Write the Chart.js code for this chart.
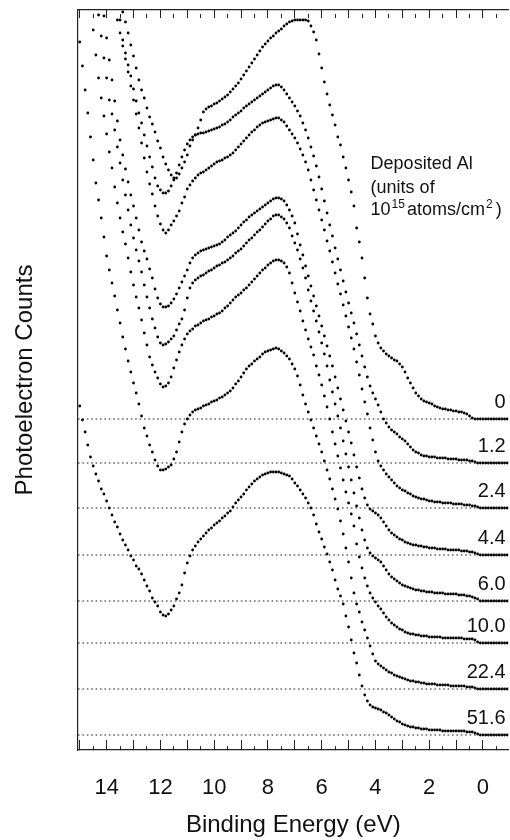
<!DOCTYPE html>
<html>
<head>
<meta charset="utf-8">
<title>Photoelectron spectra vs deposited Al</title>
<script src="https://cdn.jsdelivr.net/npm/chart.js@4.4.1/dist/chart.umd.min.js"></script>
<style>
  html, body { margin: 0; padding: 0; background: #fff; overflow: hidden; }
  #wrap { width: 510px; height: 840px; }
</style>
</head>
<body>
<div id="wrap"><canvas id="spectra" width="510" height="840"></canvas></div>
<script>
// --- DATA ---
// binding energy grid (eV), shared by every spectrum; spectra stop where they leave the top of the frame
const energies = [
  -0.9,-0.8,-0.7,-0.6,-0.5,-0.4,-0.3,-0.2,-0.1,0,
  0.1,0.2,0.3,0.4,0.5,0.6,0.7,0.8,0.9,1.0,
  1.1,1.2,1.3,1.4,1.5,1.6,1.7,1.8,1.9,2.0,
  2.1,2.2,2.3,2.4,2.5,2.6,2.7,2.8,2.9,3.0,
  3.1,3.2,3.3,3.4,3.5,3.6,3.7,3.8,3.9,4.0,
  4.1,4.2,4.3,4.4,4.5,4.6,4.7,4.8,4.9,5.0,
  5.1,5.2,5.3,5.4,5.5,5.6,5.7,5.8,5.9,6.0,
  6.1,6.2,6.3,6.4,6.5,6.6,6.7,6.8,6.9,7.0,
  7.1,7.2,7.3,7.4,7.5,7.6,7.7,7.8,7.9,8.0,
  8.1,8.2,8.3,8.4,8.5,8.6,8.7,8.8,8.9,9.0,
  9.1,9.2,9.3,9.4,9.5,9.6,9.7,9.8,9.9,10.0,
  10.1,10.2,10.3,10.4,10.5,10.6,10.7,10.8,10.9,11.0,
  11.1,11.2,11.3,11.4,11.5,11.6,11.7,11.8,11.9,12.0,
  12.1,12.2,12.3,12.4,12.5,12.6,12.7,12.8,12.9,13.0,
  13.1,13.2,13.3,13.4,13.5,13.6,13.7,13.8,13.9,14.0,
  14.1,14.2,14.3,14.4,14.5,14.6,14.7,14.8,14.9,15.0
];

// deposited Al coverage (10^15 atoms/cm^2) and the offset baseline of each spectrum
const coverages = ['0', '1.2', '2.4', '4.4', '6.0', '10.0', '22.4', '51.6'];
const baselines = [331, 287, 242, 195, 149, 107, 61, 15];

// photoelectron counts (arbitrary units, offset spectra)
const al0 = [
  331,331,331,331,331,331,331,331,331,331,
  331,331,331,332,334,336,337,338,338,339,
  339,340,340,341,341,342,343,344,346,347,
  348,349,351,354,357,362,367,372,378,383,
  386,389,390,392,394,396,399,402,407,414,
  426,436,452,472,492,508,522,544,558,570,
  582,593,605,613,625,635,645,656,668,682,
  696,710,718,724,729,730,730,730,730,730,
  729,728,726,724,721,719,717,714,712,709,
  706,703,699,695,691,687,683,679,675,671,
  667,664,661,658,655,653,651,649,647,646,
  644,643,641,638,630,622,615,610,604,595,
  588,582,576,572,572,575,580,586,593,602,
  609,618,626,633,642,652,660,670,682,694,
  705,717,728,738
];
const al1_2 = [
  287,287,287,287,287,287,287,287,287,287,
  287,287,288,289,289,290,290,290,290,291,
  291,291,291,292,292,292,292,293,293,293,
  294,294,295,297,298,300,303,306,309,311,
  313,316,318,320,323,327,331,338,345,351,
  357,364,373,383,394,405,416,427,437,447,
  458,469,480,491,502,514,525,537,549,561,
  573,584,594,603,612,620,627,634,639,644,
  648,652,656,660,663,665,665,664,662,660,
  658,656,654,652,650,648,646,644,642,639,
  637,635,633,630,628,626,625,623,622,621,
  620,619,618,617,617,616,615,613,610,606,
  600,593,585,577,570,564,559,557,557,560,
  564,572,583,593,604,615,627,637,649,661,
  674,685,697,710,730
];
const al2_4 = [
  242,242,242,242,242,242,242,242,242,242,
  242,243,244,244,245,245,245,246,246,246,
  246,247,247,247,247,248,248,248,249,249,
  250,251,251,252,253,254,256,257,259,260,
  262,264,267,270,273,276,280,284,289,298,
  310,322,336,348,361,375,388,401,412,423,
  434,445,456,466,477,488,499,509,520,530,
  540,550,560,570,580,588,595,601,607,612,
  616,620,624,628,630,632,632,631,630,629,
  628,627,625,623,620,618,615,612,609,606,
  603,600,597,595,593,592,590,589,588,586,
  584,582,580,578,577,575,572,569,565,561,
  553,547,539,534,529,525,520,517,520,526,
  534,544,556,566,578,592,607,622,636,650,
  664,678,691,704,717,730
];
const al4_4 = [
  195,195,195,195,195,195,195,195,195,195,
  195,196,197,198,198,199,199,199,200,200,
  200,200,200,201,201,201,201,202,202,202,
  203,203,204,204,205,205,206,207,208,210,
  211,213,215,217,220,224,228,232,235,237,
  239,241,245,252,261,272,283,295,307,318,
  329,340,351,362,373,384,394,404,414,424,
  434,444,454,464,474,484,495,505,516,527,
  534,540,545,549,551,552,552,551,549,547,
  545,543,541,539,537,535,533,530,528,525,
  522,519,517,515,513,510,508,506,505,504,
  503,502,501,500,499,497,495,492,487,480,
  474,468,462,456,451,447,444,443,443,446,
  452,461,472,481,491,499,508,520,532,544,
  555,568,581,595,610,629,649,670,690,712,
  734
];
const al6_0 = [
  149,149,149,149,149,149,149,149,149,149,
  149,151,152,153,154,154,155,155,155,156,
  156,156,156,156,157,157,157,157,158,158,
  158,159,159,160,160,161,162,163,164,165,
  167,169,171,173,176,180,184,188,190,192,
  194,197,202,210,220,232,244,257,270,283,
  296,309,322,334,346,358,370,384,396,407,
  418,429,439,449,460,472,482,491,500,507,
  514,522,527,531,533,535,535,534,531,529,
  526,523,520,518,515,512,510,507,504,501,
  499,497,494,492,490,488,487,485,484,482,
  480,479,477,475,474,472,470,467,462,452,
  440,431,426,420,414,411,408,406,405,407,
  413,422,431,442,453,465,478,489,500,512,
  525,540,555,570,587,603,620,636,650,672,
  692,714,735
];
const al10_0 = [
  107,107,107,107,107,107,107,107,107,107,
  107,108,110,111,111,111,111,112,112,112,
  112,112,112,112,112,113,113,113,113,113,
  114,114,114,115,115,116,116,117,118,120,
  121,123,125,127,130,133,137,141,144,148,
  152,157,164,172,182,193,206,224,236,247,
  258,270,282,294,306,318,331,343,354,365,
  375,384,395,403,411,420,429,439,448,457,
  467,477,483,487,489,490,490,489,487,485,
  482,480,477,474,471,468,465,462,460,457,
  455,453,450,447,444,442,439,437,436,434,
  433,431,430,429,427,425,424,421,419,416,
  411,405,398,390,382,373,367,364,363,366,
  372,378,385,393,405,417,430,442,453,465,
  478,492,506,518,532,547,563,582,598,616,
  634,652,672,695,720
];
const al22_4 = [
  61,61,61,61,61,61,61,61,61,61,
  61,61,62,63,63,63,64,64,64,64,
  64,64,65,65,65,65,65,66,66,66,
  66,67,67,68,68,69,69,70,71,72,
  73,74,75,77,78,80,82,84,86,89,
  96,104,112,120,128,138,146,157,172,188,
  202,216,229,241,251,261,271,280,289,298,
  306,314,322,330,338,346,355,365,374,381,
  386,391,394,397,399,401,402,401,400,399,
  398,396,393,391,389,386,384,381,377,373,
  369,366,362,359,357,355,353,352,350,349,
  348,346,345,344,342,341,340,338,335,331,
  326,318,308,298,291,285,283,281,280,280,
  284,290,298,305,314,322,334,346,357,367,
  378,389,401,413,427,440,454,467,480,494,
  513,532,550,567,590,613,637,660,684,708
];
const al51_6 = [
  15,15,15,15,15,15,15,15,15,15,
  15,16,17,18,18,18,19,19,19,19,
  19,19,19,19,19,20,20,20,20,20,
  21,21,21,22,22,23,23,24,25,26,
  28,29,31,33,35,37,38,40,41,42,
  43,45,49,55,64,75,87,97,110,123,
  134,146,154,161,170,180,188,196,203,211,
  218,226,235,242,247,252,256,260,264,267,
  271,274,275,276,277,278,278,278,278,277,
  276,275,273,271,269,266,263,260,256,253,
  250,247,243,239,237,234,232,229,227,225,
  222,220,217,214,211,208,204,200,194,187,
  177,165,157,151,144,140,136,134,135,138,
  144,148,152,159,164,170,176,181,184,190,
  194,200,205,210,216,223,228,235,242,249,
  256,261,269,276,284,293,305,318,330,344
];

const spectra = [al0, al1_2, al2_4, al4_4, al6_0, al10_0, al22_4, al51_6];

// axis limits (eV), axis runs high to low
const E_MAX = 15.065;
const E_MIN = -0.953;
const COUNTS_MAX = 740;

const FONT = "'Liberation Sans', Arial, Helvetica, sans-serif";
const INK = '#111';

// --- DATASETS ---
const spectrumSets = spectra.map((vals, i) => ({
  label: coverages[i],
  data: vals.map((v, j) => ({ x: energies[j], y: v })),
  showLine: false,
  pointRadius: 1.4,
  pointBorderWidth: 0,
  pointBackgroundColor: '#000',
  pointHoverRadius: 1.4
}));

const baselineSets = baselines.map(b => ({
  type: 'line',
  data: [{ x: E_MAX, y: b }, { x: E_MIN, y: b }],
  borderColor: '#222',
  borderWidth: 1.2,
  borderDash: [1.6, 2.8],
  pointRadius: 0,
  fill: false
}));

// --- TEXT NOTES ---
const notesPlugin = {
  id: 'notes',
  afterDatasetsDraw(chart) {
    const { ctx, chartArea, scales } = chart;
    const y = scales.y;
    ctx.save();
    ctx.fillStyle = INK;
    ctx.textBaseline = 'alphabetic';

    // coverage labels sitting on each baseline
    ctx.font = `20px ${FONT}`;
    ctx.textAlign = 'right';
    coverages.forEach((c, i) => {
      ctx.fillText(c, chartArea.right - 3, y.getPixelForValue(baselines[i]) - 11);
    });

    // heading of the coverage column
    ctx.textAlign = 'left';
    const x0 = chartArea.right - 138;
    const top = chartArea.top;
    ctx.font = `18px ${FONT}`;
    ctx.fillText('Deposited Al', x0, top + 159);
    ctx.fillText('(units of', x0, top + 183);

    let x = x0;
    const base = top + 205;
    ctx.fillText('10', x, base);
    x += ctx.measureText('10').width + 1;
    ctx.font = `12px ${FONT}`;
    ctx.fillText('15', x, base - 7);
    x += ctx.measureText('15').width + 2;
    ctx.font = `18px ${FONT}`;
    ctx.fillText('atoms/cm', x, base);
    x += ctx.measureText('atoms/cm').width + 1;
    ctx.font = `12px ${FONT}`;
    ctx.fillText('2', x, base - 7);
    x += ctx.measureText('2').width + 3;
    ctx.font = `18px ${FONT}`;
    ctx.fillText(')', x, base);
    ctx.restore();
  }
};

// --- CHART ---
const isWhole = v => Math.abs(v - Math.round(v)) < 1e-6;

// keep the frame flush with the canvas edges
const noSidePadding = s => { s.paddingLeft = 0; s.paddingRight = 0; };

new Chart(document.getElementById('spectra'), {
  type: 'scatter',
  data: { datasets: [...baselineSets, ...spectrumSets] },
  options: {
    responsive: false,
    animation: false,
    events: [],
    layout: { padding: 0 },
    plugins: { legend: { display: false }, tooltip: { enabled: false } },
    scales: {
      x: {
        type: 'linear',
        position: 'bottom',
        reverse: true,
        min: E_MIN,
        max: E_MAX,
        afterFit: s => { s.height = 90; noSidePadding(s); },
        border: { display: true, color: '#222', width: 1.2 },
        grid: {
          drawOnChartArea: false,
          drawTicks: true,
          tickLength: -10,
          tickColor: '#222',
          tickWidth: 1,
          tickBorderDash: c => (c.tick && !isWhole(c.tick.value) ? [4, 40] : [])
        },
        ticks: {
          stepSize: 0.5,
          includeBounds: false,
          autoSkip: false,
          maxRotation: 0,
          padding: 35,
          color: INK,
          font: { family: FONT, size: 22 },
          callback: v => (isWhole(v) && Math.round(v) % 2 === 0 ? String(Math.round(v)) : '')
        },
        title: {
          display: true,
          text: 'Binding Energy (eV)',
          color: INK,
          font: { family: FONT, size: 24 },
          padding: { top: 0, bottom: 0 }
        }
      },
      xTop: {
        type: 'linear',
        position: 'top',
        reverse: true,
        min: E_MIN,
        max: E_MAX,
        afterFit: s => { s.height = 10; noSidePadding(s); },
        border: { display: true, color: '#222', width: 1.2 },
        grid: {
          drawOnChartArea: false,
          drawTicks: true,
          tickLength: -8,
          tickColor: '#222',
          tickWidth: 1,
          tickBorderDash: c => (c.tick && !isWhole(c.tick.value) ? [4, 40] : [])
        },
        ticks: { display: false, stepSize: 0.5, includeBounds: false, autoSkip: false }
      },
      y: {
        min: 0,
        max: COUNTS_MAX,
        afterFit: s => { s.width = 78; },
        border: { display: true, color: '#222', width: 1.2 },
        grid: { drawOnChartArea: false, drawTicks: false },
        ticks: { display: false },
        title: {
          display: true,
          text: 'Photoelectron Counts',
          color: INK,
          font: { family: FONT, size: 24 },
          padding: { top: 11, bottom: 0 }
        }
      }
    }
  },
  plugins: [notesPlugin]
});
</script>
</body>
</html>
